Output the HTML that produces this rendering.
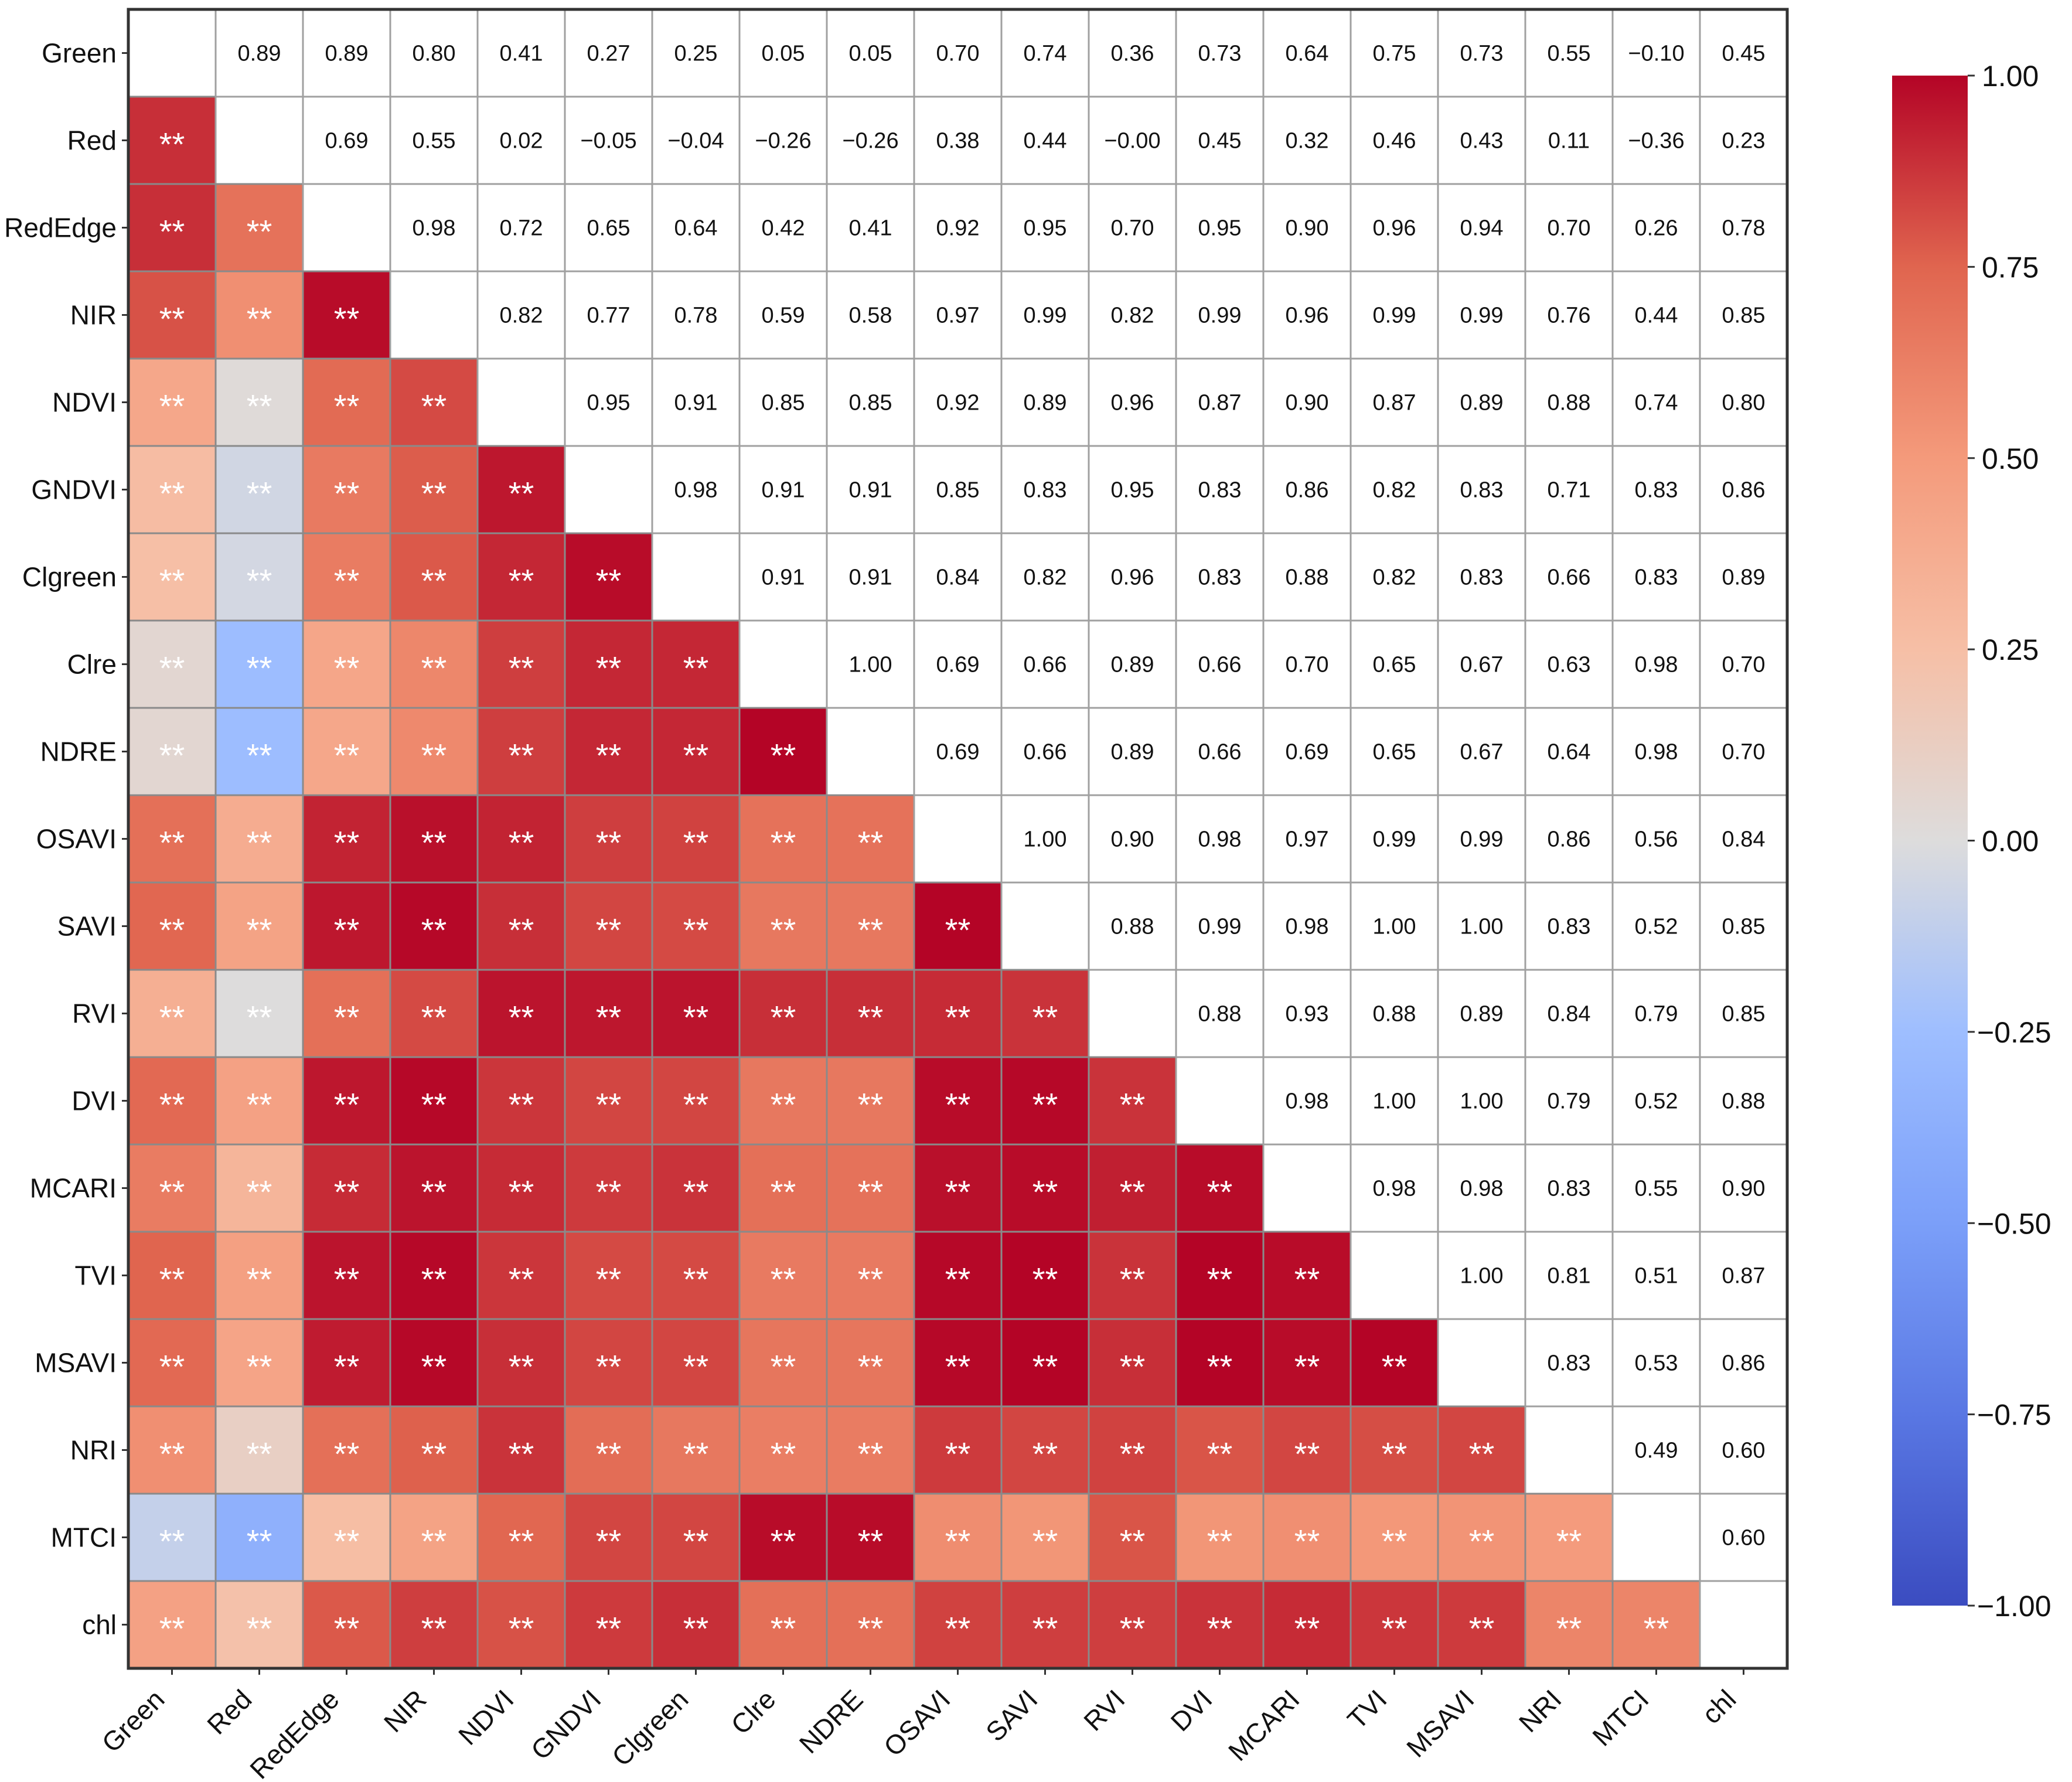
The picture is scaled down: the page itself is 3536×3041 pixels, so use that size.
<!DOCTYPE html>
<html><head><meta charset="utf-8"><style>
html,body{margin:0;padding:0;background:#fff;}
svg{display:block;font-family:"Liberation Sans","DejaVu Sans",sans-serif;}
</style></head><body>
<svg id="chart" width="3536" height="3041" viewBox="0 0 3536 3041" xmlns="http://www.w3.org/2000/svg">
<defs>
<linearGradient id="cbgrad" x1="0" y1="1" x2="0" y2="0">
<stop offset="0" stop-color="#3b4cc0"/><stop offset="0.125" stop-color="#5977e3"/>
<stop offset="0.25" stop-color="#7b9ff9"/><stop offset="0.375" stop-color="#9ebeff"/>
<stop offset="0.5" stop-color="#dddcdc"/><stop offset="0.625" stop-color="#f6bfa6"/>
<stop offset="0.75" stop-color="#f49a7b"/><stop offset="0.875" stop-color="#e0654f"/>
<stop offset="1" stop-color="#b40426"/>
</linearGradient>
</defs>
<g id="cells"></g>
<g id="labels"></g>
<g id="cbar"></g>
</svg>
<script>
const categories = ["Green","Red","RedEdge","NIR","NDVI","GNDVI","Clgreen","Clre","NDRE","OSAVI","SAVI","RVI","DVI","MCARI","TVI","MSAVI","NRI","MTCI","chl"];
const upperRows = [
[0.89,0.89,0.80,0.41,0.27,0.25,0.05,0.05,0.70,0.74,0.36,0.73,0.64,0.75,0.73,0.55,-0.10,0.45],
[0.69,0.55,0.02,-0.05,-0.04,-0.26,-0.26,0.38,0.44,-0.00,0.45,0.32,0.46,0.43,0.11,-0.36,0.23],
[0.98,0.72,0.65,0.64,0.42,0.41,0.92,0.95,0.70,0.95,0.90,0.96,0.94,0.70,0.26,0.78],
[0.82,0.77,0.78,0.59,0.58,0.97,0.99,0.82,0.99,0.96,0.99,0.99,0.76,0.44,0.85],
[0.95,0.91,0.85,0.85,0.92,0.89,0.96,0.87,0.90,0.87,0.89,0.88,0.74,0.80],
[0.98,0.91,0.91,0.85,0.83,0.95,0.83,0.86,0.82,0.83,0.71,0.83,0.86],
[0.91,0.91,0.84,0.82,0.96,0.83,0.88,0.82,0.83,0.66,0.83,0.89],
[1.00,0.69,0.66,0.89,0.66,0.70,0.65,0.67,0.63,0.98,0.70],
[0.69,0.66,0.89,0.66,0.69,0.65,0.67,0.64,0.98,0.70],
[1.00,0.90,0.98,0.97,0.99,0.99,0.86,0.56,0.84],
[0.88,0.99,0.98,1.00,1.00,0.83,0.52,0.85],
[0.88,0.93,0.88,0.89,0.84,0.79,0.85],
[0.98,1.00,1.00,0.79,0.52,0.88],
[0.98,0.98,0.83,0.55,0.90],
[1.00,0.81,0.51,0.87],
[0.83,0.53,0.86],
[0.49,0.60],
[0.60]
];
const colorbarTicks = [1.00,0.75,0.50,0.25,0.00,-0.25,-0.50,-0.75,-1.00];

const NS="http://www.w3.org/2000/svg";
const X0=219, Y0=16, CELL=149, N=categories.length;
const CB_X=3229, CB_W=129, CB_TOP=129, CB_BOT=2740;
const cmapStops=[[59,76,192],[89,119,227],[123,159,249],[158,190,255],[221,220,220],[246,191,166],[244,154,123],[224,101,79],[180,4,38]];
function coolwarm(v){
  let t=(v+1)/2; t=Math.max(0,Math.min(1,t));
  const p=t*8, i=Math.min(7,Math.floor(p)), f=p-i;
  const a=cmapStops[i], b=cmapStops[i+1];
  return `rgb(${a.map((c,k)=>Math.round(c+(b[k]-c)*f)).join(",")})`;
}
function xPos(j){return X0+j*CELL;}
function yPos(i){return Y0+i*CELL;}
function cbY(v){return CB_BOT-(v+1)/2*(CB_BOT-CB_TOP);}
function fmt(v){const s=Math.abs(v).toFixed(2);return (v<0||Object.is(v,-0))?"\u2212"+s:s;}
function mk(tag,attrs,parent,text){const e=document.createElementNS(NS,tag);for(const k in attrs)e.setAttribute(k,attrs[k]);if(text!==undefined)e.textContent=text;parent.appendChild(e);return e;}
function val(i,j){ if(i<j) return upperRows[i][j-i-1]; return upperRows[j][i-j-1]; }

const cells=document.getElementById("cells");
for(let i=0;i<N;i++){
  for(let j=0;j<N;j++){
    const x=xPos(j), y=yPos(i);
    if(i===j){
      const r=mk("rect",{x:x,y:y,width:CELL,height:CELL,fill:"#fff",stroke:"#a0a0a0","stroke-width":3},cells);
      
      
      continue;
    }
    const v=val(i,j);
    if(i<j){
      const r=mk("rect",{x:x,y:y,width:CELL,height:CELL,fill:"#fff",stroke:"#a0a0a0","stroke-width":3},cells);
      
      
      const t=mk("text",{x:x+CELL/2,y:y+CELL/2+13,"text-anchor":"middle","font-size":38,fill:"#111"},cells,fmt(v));
      
      
    } else {
      const r=mk("rect",{x:x,y:y,width:CELL,height:CELL,fill:coolwarm(v),stroke:"#8a8a8a","stroke-width":3},cells);
      
      
      const t=mk("text",{x:x+CELL/2,y:y+CELL/2+26,"text-anchor":"middle","font-size":56,fill:"#fff"},cells,"**");
      
      
    }
  }
}
const frame=mk("rect",{x:X0,y:Y0,width:N*CELL,height:N*CELL,fill:"none",stroke:"#333","stroke-width":5},cells);



const labels=document.getElementById("labels");
for(let i=0;i<N;i++){
  const cy=yPos(i)+CELL/2;
  mk("line",{x1:X0-11,x2:X0,y1:cy,y2:cy,stroke:"#333","stroke-width":3},labels);
  const t=mk("text",{x:X0-20,y:cy+16,"text-anchor":"end","font-size":46,fill:"#111"},labels,categories[i]);
  
  
  const cx=xPos(i)+CELL/2, by=Y0+N*CELL;
  mk("line",{x1:cx,x2:cx,y1:by,y2:by+11,stroke:"#333","stroke-width":3},labels);
  const tx=mk("text",{x:0,y:0,"text-anchor":"end","font-size":46,fill:"#111",transform:`translate(${cx-10},${by+56}) rotate(-45)`},labels,categories[i]);
  
  
}

const cbar=document.getElementById("cbar");
const cb=mk("rect",{x:CB_X,y:CB_TOP,width:CB_W,height:CB_BOT-CB_TOP,fill:"url(#cbgrad)"},cbar);


colorbarTicks.forEach(v=>{
  const y=cbY(v);
  mk("line",{x1:CB_X+CB_W,x2:CB_X+CB_W+12,y1:y,y2:y,stroke:"#333","stroke-width":3},cbar);
  const t=mk("text",{x:CB_X+CB_W+(v<0?16:24),y:y+18,"font-size":50,fill:"#111"},cbar,fmt(v));
  
  
});
</script>
</body></html>
